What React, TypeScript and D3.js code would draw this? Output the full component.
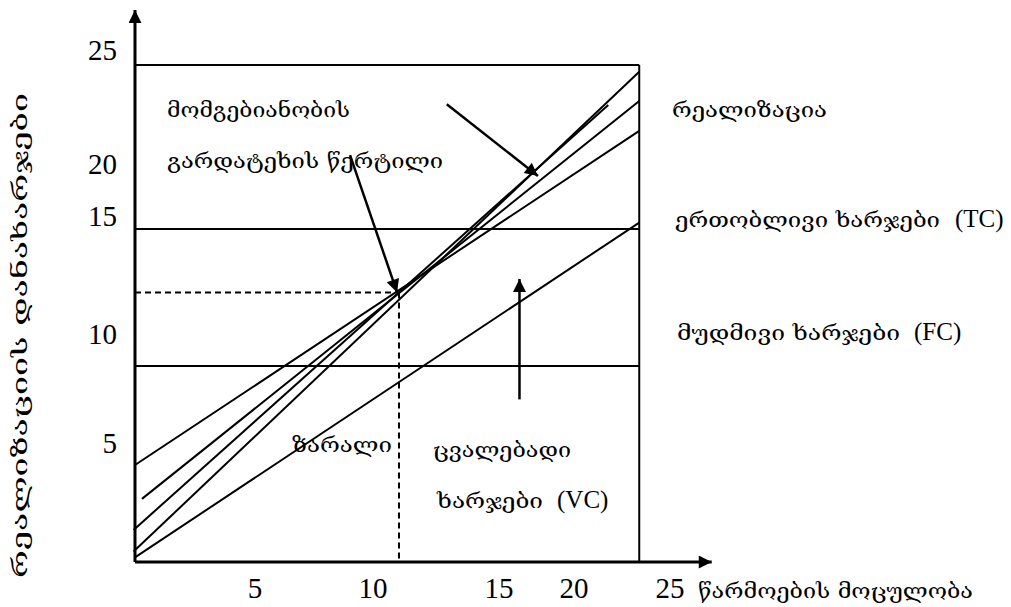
import React from 'react';
import * as d3 from 'd3';

// ---------- data (chart units) ----------
const xTickLabels = ['5', '10', '15', '20', '25'];
const xTickAt = [5.0, 9.92, 15.17, 18.29, 22.29];
const yTickLabels = ['5', '10', '15', '20', '25'];
const yTickAt = [5.11, 9.83, 14.91, 17.16, 22.05];

// straight sloped lines: four revenue lines through the break-even point and the VC line
const lineNames = ['TR1', 'TR2', 'TR3', 'TR4', 'VC'];
const lineStartX = [0, 0.29, -0.06, -0.06, 0];
const lineStartY = [4.18, 2.72, 1.38, 0.45, 0.2];
const lineEndX = [21.01, 21.01, 19.72, 21.01, 21.01];
const lineEndY = [18.58, 19.87, 19.7, 21.13, 14.63];

// horizontal cost levels
const levelNames = ['FC', 'TC', 'top'];
const levelValues = [8.45, 14.35, 21.42];

const plotRight = 21.01;
const xAxisMax = 24.03;
const yAxisMax = 23.79;
const breakEvenX = 11.0;
const breakEvenY = 11.62;

// annotation arrows (from -> to)
const arrowNames = ['breakeven', 'realization', 'variable'];
const arrowFromX = [8.96, 12.99, 16.02];
const arrowFromY = [17.54, 19.73, 7.01];
const arrowToX = [10.92, 16.79, 16.02];
const arrowToY = [11.62, 16.64, 12.2];

const W = 1011;
const H = 607;

export default function App() {
  const x = d3.scaleLinear().domain([0, 25]).range([135, 735]);
  const y = d3.scaleLinear().domain([0, 25]).range([562, -18]);
  const line = d3
    .line<[number, number]>()
    .x((d) => x(d[0]))
    .y((d) => y(d[1]));

  const geo = 'DejaVu Serif, DejaVu Sans, serif';
  const num = 'Liberation Serif, Times New Roman, serif';
  const pre: React.CSSProperties = { whiteSpace: 'pre' };

  const label = (
    t: string,
    px: number,
    py: number,
    len: number,
    latin?: string,
    latinX?: number
  ) => (
    <g key={t}>
      <text
        x={px}
        y={py}
        fontFamily={geo}
        fontSize={21}
        textLength={len}
        lengthAdjust="spacingAndGlyphs"
        style={pre}
        fill="#000"
      >
        {t}
      </text>
      {latin ? (
        <text x={latinX} y={py} fontFamily={num} fontSize={25} fill="#000">
          {latin}
        </text>
      ) : null}
    </g>
  );

  return (
    <svg
      width={W}
      height={H}
      viewBox={`0 0 ${W} ${H}`}
      style={{ position: 'absolute', left: 0, top: 0, display: 'block', background: '#fff' }}
    >
      <defs>
        <marker
          id="ah"
          viewBox="0 0 10 10"
          refX="10"
          refY="5"
          markerUnits="userSpaceOnUse"
          markerWidth="15"
          markerHeight="13"
          orient="auto"
        >
          <path d="M0,0 L10,5 L0,10 z" fill="#000" />
        </marker>
      </defs>

      {/* horizontal levels */}
      {levelNames.map((n, i) => (
        <path
          key={n}
          d={line([
            [0, levelValues[i]],
            [plotRight, levelValues[i]],
          ]) || ''}
          stroke="#000"
          strokeWidth={2}
          fill="none"
        />
      ))}
      {/* right border */}
      <path
        d={line([
          [plotRight, 0],
          [plotRight, levelValues[2]],
        ]) || ''}
        stroke="#000"
        strokeWidth={2}
        fill="none"
      />

      {/* dashed guides */}
      <path
        d={line([
          [0, breakEvenY],
          [breakEvenX, breakEvenY],
        ]) || ''}
        stroke="#000"
        strokeWidth={2}
        strokeDasharray="6,4"
        fill="none"
      />
      <path
        d={line([
          [breakEvenX, breakEvenY],
          [breakEvenX, 0],
        ]) || ''}
        stroke="#000"
        strokeWidth={2}
        strokeDasharray="6,4"
        fill="none"
      />

      {/* sloped lines */}
      {lineNames.map((n, i) => (
        <path
          key={n}
          d={line([
            [lineStartX[i], lineStartY[i]],
            [lineEndX[i], lineEndY[i]],
          ]) || ''}
          stroke="#000"
          strokeWidth={2}
          fill="none"
        />
      ))}

      {/* annotation arrows */}
      {arrowNames.map((n, i) => (
        <path
          key={n}
          d={line([
            [arrowFromX[i], arrowFromY[i]],
            [arrowToX[i], arrowToY[i]],
          ]) || ''}
          stroke="#000"
          strokeWidth={2.5}
          fill="none"
          markerEnd="url(#ah)"
        />
      ))}

      {/* axes */}
      <path
        d={line([
          [0, 0],
          [0, yAxisMax],
        ]) || ''}
        stroke="#000"
        strokeWidth={3}
        fill="none"
        markerEnd="url(#ah)"
      />
      <path
        d={line([
          [0, 0],
          [xAxisMax, 0],
        ]) || ''}
        stroke="#000"
        strokeWidth={3}
        fill="none"
        markerEnd="url(#ah)"
      />

      {/* tick labels */}
      {yTickLabels.map((t, i) => (
        <text
          key={'y' + t}
          x={117}
          y={y(yTickAt[i]) + 10}
          textAnchor="end"
          fontFamily={num}
          fontSize={29}
        >
          {t}
        </text>
      ))}
      {xTickLabels.map((t, i) => (
        <text
          key={'x' + t}
          x={x(xTickAt[i])}
          y={598}
          textAnchor="middle"
          fontFamily={num}
          fontSize={29}
        >
          {t}
        </text>
      ))}

      {/* annotations */}
      {label('მომგებიანობის', 167, 117, 183)}
      {label('გარდატეხის წერტილი', 167, 168, 276)}
      {label('რეალიზაცია', 672, 117, 155)}
      {label('ერთობლივი ხარჯები', 675, 227, 265, '(TC)', 955)}
      {label('მუდმივი ხარჯები', 677, 340, 223, '(FC)', 914)}
      {label('ზარალი', 292, 452, 100)}
      {label('ცვალებადი', 433, 457, 138)}
      {label('ხარჯები', 437, 508, 106, '(VC)', 557)}
      {label('წარმოების მოცულობა', 698, 598, 275)}

      {/* y-axis title */}
      <text
        transform="translate(27,578) rotate(-90)"
        fontFamily={geo}
        fontSize={21}
        textLength={485}
        lengthAdjust="spacingAndGlyphs"
      >
        რეალიზაციის დანახარჯები
      </text>
    </svg>
  );
}
